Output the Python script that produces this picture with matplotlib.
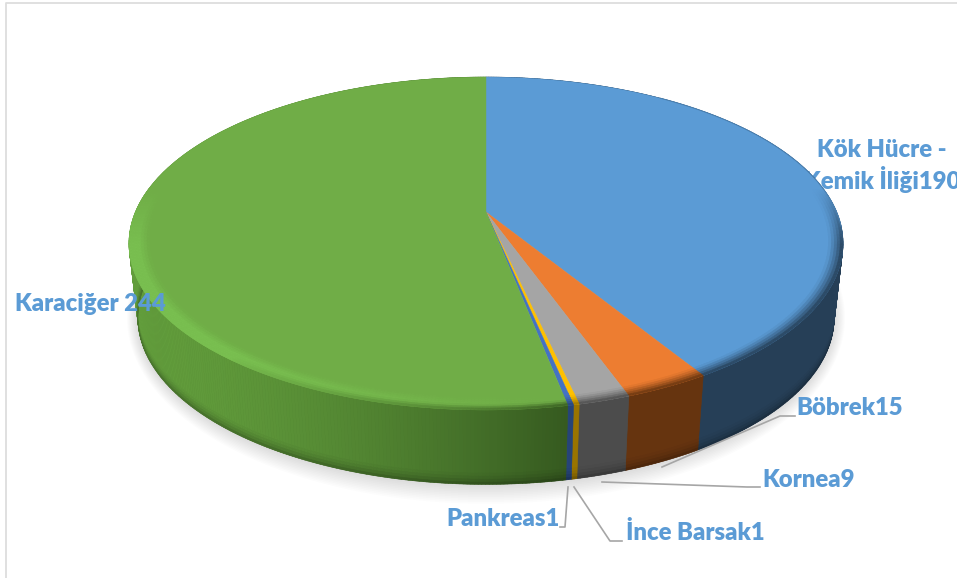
import numpy as np
import matplotlib
matplotlib.use("Agg")
import matplotlib.pyplot as plt
from matplotlib.collections import PolyCollection
from matplotlib.colors import to_rgb

# data (clockwise from 12 o'clock)
names = ["Kök Hücre -\nKemik İliği", "Böbrek", "Kornea", "İnce Barsak", "Pankreas", "Karaciğer "]
values = [190, 15, 9, 1, 1, 244]
top_colors = ["#5B9BD5", "#ED7D31", "#A5A5A5", "#FFC000", "#4472C4", "#70AD47"]
side_colors = ["#263F57", "#66340F", "#4C4C4C", "#9A7400", "#264478", "#466F2B"]
label_pos = [(882, 166), (850, 408), (809, 480), (695, 533), (503, 519), (90, 304)]
leaders = [
    None,
    ([662, 780, 795], [467, 416, 416]),
    ([602, 747, 760], [482, 487, 487]),
    ([574, 610, 622], [487, 541, 541]),
    ([568, 565, 560], [487, 527, 527]),
    None,
]

# perspective of the pie disc, in pixels
CX, CY = 486, 212
A, B, K = 350.6, 160.5, 0.189
DEPTH, NARROW = 74.5, 0.975
TEXT = "#5B9BD5"
LEAD = "#A6A6A6"
FONT = "Lato"
FS = 17.2

fig = plt.figure(figsize=(9.57, 5.78), dpi=100)
ax = fig.add_axes([0, 0, 1, 1])
ax.set_xlim(0, 957)
ax.set_ylim(578, 0)
ax.axis("off")


def top_xy(phi, r=1.0):
    u, v = r * np.sin(phi), r * np.cos(phi)
    d = 1 + K * v
    return CX + A * u / d, CY - B * v / d


def bottom_xy(phi, r=1.0):
    x, y = top_xy(phi, r)
    return CX + (x - CX) * NARROW, y + DEPTH


def mix(a, b, t):
    a, b = np.array(a), np.array(b)
    return a + (b - a) * t


# frame of the picture
ax.plot([6, 6, 957], [578, 3, 3], color="#DDDDDD", lw=1.3, zorder=1)

# soft shadow below the disc
full = np.linspace(0, 2 * np.pi, 361)
for grow in np.linspace(20, 1, 12):
    sx, sy = bottom_xy(full)
    sx = CX + (sx - CX) * (1 + grow * 0.55 / 350)
    sy = (sy - 320) * (1 + grow / 170) + 320
    ax.fill(sx, sy, color="#000000", alpha=0.012, lw=0, zorder=2)

# the label that the disc covers in part
ax.text(*label_pos[0], names[0] + str(values[0]), color=TEXT, fontsize=FS,
        family=FONT, weight=800, ha="center", va="center", zorder=3, linespacing=1.2)

edges = np.cumsum([0] + values) / sum(values) * 2 * np.pi
green = len(values) - 1

side_polys, side_cols, top_polys, top_cols, rim_polys, rim_cols = [], [], [], [], [], []
levels = np.array([0, 0.85, 0.89, 0.93, 0.97, 1.0])
shades = [1.0, 0.97, 0.92, 0.85, 0.75]
for i, (a0, a1) in enumerate(zip(edges[:-1], edges[1:])):
    base = np.array(to_rgb(top_colors[i]))
    dark = np.array(to_rgb(side_colors[i]))
    n = max(2, int(np.degrees(a1 - a0) * 2))
    phi = np.linspace(a0, a1, n + 1)

    # flat top of the slice
    tx, ty = top_xy(phi)
    top_polys.append(np.column_stack([np.r_[CX, tx], np.r_[CY, ty]]))
    top_cols.append(base)

    # solid backing of the wall, so the strips show no seams
    bx, by = bottom_xy(phi)
    ax.fill(np.r_[tx, bx[::-1]], np.r_[ty, by[::-1]], color=dark, lw=0, zorder=3.5)

    for p0, p1 in zip(phi[:-1], phi[1:]):
        pm = (p0 + p1) / 2
        x0, y0 = top_xy(p0)
        x1, y1 = top_xy(p1)
        X0, Y0 = bottom_xy(p0)
        X1, Y1 = bottom_xy(p1)
        xm = (x0 + x1) / 2
        # side wall
        if i == green:
            t = np.clip((xm - 130) / 440, 0, 1)
            wall = mix(to_rgb("#629D3C"), to_rgb("#35591F"), t ** 1.6)
        else:
            wall = dark
        for k in range(len(shades)):
            s0, s1 = levels[k], levels[k + 1]
            side_polys.append([
                (x0 + (X0 - x0) * s0, y0 + (Y0 - y0) * s0),
                (x1 + (X1 - x1) * s0, y1 + (Y1 - y1) * s0),
                (x1 + (X1 - x1) * s1, y1 + (Y1 - y1) * s1),
                (x0 + (X0 - x0) * s1, y0 + (Y0 - y0) * s1),
            ])
            side_cols.append(wall * shades[k])

        # bevel on the visible rim
        front = np.clip((-np.cos(pm) + 0.15) / 0.35, 0, 1)
        if front <= 0:
            continue
        radii = np.linspace(0.945, 1.0, 8)
        for j, (r0, r1) in enumerate(zip(radii[:-1], radii[1:])):
            t = (j + 0.5) / 7
            if i == green:
                glow = np.clip((560 - xm) / 330, 0, 1)
                light = mix(base, to_rgb("#79BF50"), glow)
                c = mix(base, light, min(t / 0.5, 1))
                if t > 0.6:
                    c = mix(c, wall, ((t - 0.6) / 0.4) * (1 - glow) ** 0.5)
            else:
                c = mix(base, wall, np.clip((t - 0.25) / 0.75, 0, 1) ** 1.3)
            c = mix(base, c, front)
            ax0, ay0 = top_xy(p0, r0)
            ax1, ay1 = top_xy(p1, r0)
            bx1, by1 = top_xy(p1, r1)
            bx0, by0 = top_xy(p0, r1)
            rim_polys.append([(ax0, ay0), (ax1, ay1), (bx1, by1), (bx0, by0)])
            rim_cols.append(c)

ax.add_collection(PolyCollection(side_polys, facecolors=side_cols, edgecolors=side_cols,
                                 linewidths=0.4, zorder=4))
ax.add_collection(PolyCollection(top_polys, facecolors=top_cols, edgecolors=top_cols,
                                 linewidths=0.3, zorder=5))
ax.add_collection(PolyCollection(rim_polys, facecolors=rim_cols, edgecolors=rim_cols,
                                 linewidths=0.4, zorder=6))

# thin dark back edge of the blue slice
bp = np.linspace(np.radians(35), np.radians(95), 120)
bx, by = top_xy(bp)
ax.plot(bx, by, color="#4A7FAF", lw=0.7, zorder=6)

# leaders and labels
for i, name in enumerate(names):
    if leaders[i] is not None:
        ax.plot(leaders[i][0], leaders[i][1], color=LEAD, lw=1.2, zorder=7)
    if i > 0:
        ax.text(*label_pos[i], name + str(values[i]), color=TEXT, fontsize=FS,
                family=FONT, weight=800, ha="center", va="center", zorder=8)

fig.savefig("out.png", dpi=100, facecolor="white")
